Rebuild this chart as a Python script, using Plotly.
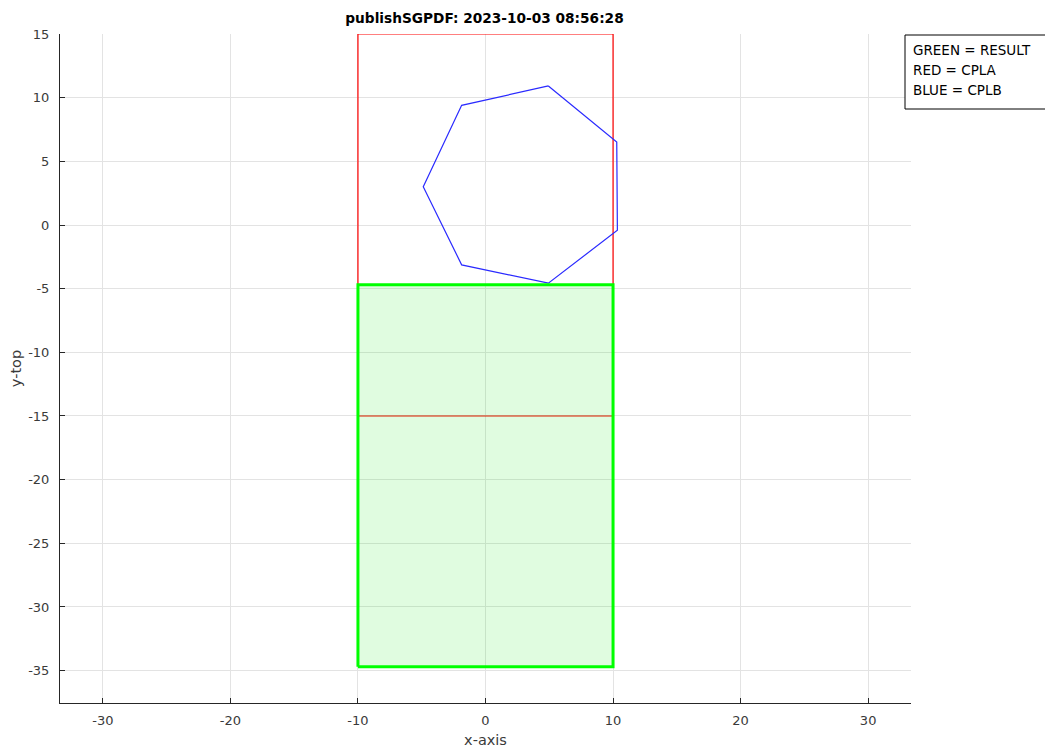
import plotly.graph_objects as go

# Data
red_x = [-10, 10, 10, -10, -10]
red_y = [-15, -15, 15, 15, -15]
blue_x = [4.93, 10.29, 10.34, 4.93, -1.87, -4.88, -1.87, 4.93]
blue_y = [10.92, 6.52, -0.41, -4.57, -3.13, 3.01, 9.40, 10.92]
green_x = [-10, 10, 10, -10, -10]
green_y = [-34.7, -34.7, -4.7, -4.7, -34.7]
legend_lines = ["GREEN = RESULT", "RED = CPLA", "BLUE = CPLB"]
title_text = "publishSGPDF: 2023-10-03 08:56:28"
x_ticks = [-30, -20, -10, 0, 10, 20, 30]
x_tick_labels = ["-30", "-20", "-10", "0", "10", "20", "30"]
y_ticks = [15, 10, 5, 0, -5, -10, -15, -20, -25, -30, -35]
y_tick_labels = ["15", "10", "5", "0", "-5", "-10", "-15", "-20", "-25", "-30", "-35"]

fig = go.Figure()
fig.add_trace(go.Scatter(x=red_x, y=red_y, mode="lines",
                         line=dict(color="#ff0000", width=1.2), hoverinfo="skip"))
fig.add_trace(go.Scatter(x=blue_x, y=blue_y, mode="lines",
                         line=dict(color="#2a2aff", width=1.2), hoverinfo="skip"))
fig.add_trace(go.Scatter(x=green_x, y=green_y, mode="lines", fill="toself",
                         fillcolor="rgba(0,230,0,0.12)",
                         line=dict(color="#00ff00", width=3), hoverinfo="skip"))

# page body has an 8px default margin
OFF = 8
font = "DejaVu Sans, Liberation Sans, Arial, sans-serif"
tick_col = "#3a3a3a"
fig.update_layout(
    width=1053, height=751,
    margin=dict(l=60 - OFF, r=1053 - 911 + OFF, t=34 - OFF, b=751 - 703 + OFF),
    paper_bgcolor="white", plot_bgcolor="white",
    showlegend=False,
    font=dict(family=font, size=12, color="#262626"),
    title=dict(text="<b>" + title_text + "</b>", x=((344 + 625) / 2 - OFF) / 1053, xanchor="center",
               y=1 - (18 - OFF) / 751, yanchor="middle", font=dict(size=13.7, color="black")),
)
fig.update_xaxes(range=[-33.36, 33.36], tickvals=x_ticks, ticktext=x_tick_labels,
                 ticks="inside", ticklen=5,
                 tickcolor="#262626", showline=True, linecolor="#262626", linewidth=1,
                 showgrid=True, gridcolor="#e3e3e3", gridwidth=1, zeroline=False,
                 ticklabelstandoff=5, automargin=False,
                 title=dict(text="x-axis", standoff=8, font=dict(size=14.5, color=tick_col)),
                 tickfont=dict(size=13, color=tick_col))
fig.update_yaxes(range=[-37.54, 15], tickvals=y_ticks, ticktext=y_tick_labels,
                 ticks="inside", ticklen=5,
                 tickcolor="#262626", showline=True, linecolor="#262626", linewidth=1,
                 showgrid=True, gridcolor="#e3e3e3", gridwidth=1, zeroline=False,
                 ticklabelstandoff=7, automargin=False,
                 title=dict(text="y-top", standoff=8, font=dict(size=14.5, color=tick_col)),
                 tickfont=dict(size=13, color=tick_col))

# Legend box (positions relative to plot area in reference pixels)
pw, ph = 851, 669
x0 = (905 - 60) / pw
x1 = (1050 - 60) / pw
y1 = (703 - 35) / ph
y0 = (703 - 109) / ph
fig.add_shape(type="rect", xref="paper", yref="paper", x0=x0, x1=x1, y0=y0, y1=y1,
              line=dict(color="black", width=1), fillcolor="white")
for i, t in enumerate(legend_lines):
    ypix = 50 + 20 * i
    fig.add_annotation(xref="paper", yref="paper", x=(911 - 60) / pw, y=(703 - ypix) / ph,
                       text=t, showarrow=False, xanchor="left", yanchor="middle",
                       font=dict(size=13.5, color="black", family=font))

fig.write_html("out.html")
